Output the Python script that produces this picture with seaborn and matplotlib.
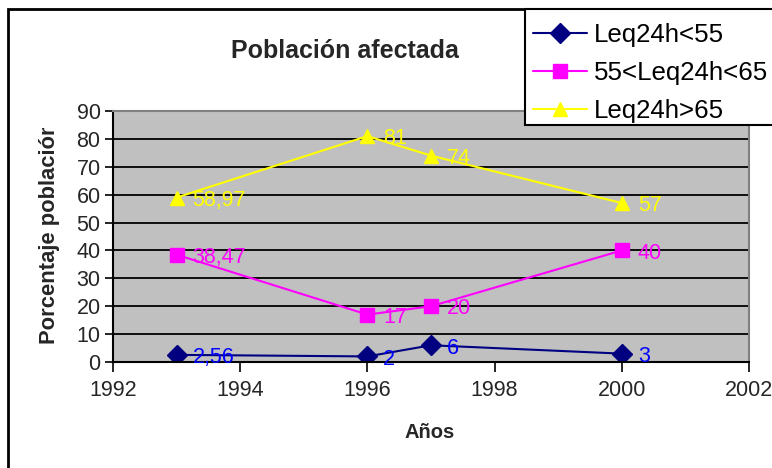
import matplotlib
matplotlib.use("Agg")
import matplotlib.pyplot as plt
import matplotlib.transforms as mtransforms
from matplotlib.patches import Rectangle
from matplotlib.lines import Line2D
import seaborn as sns
import pandas as pd

years = [1993, 1996, 1997, 2000]
series_names = ["Leq24h<55", "55<Leq24h<65", "Leq24h>65"]
low = [2.56, 2, 6, 3]
mid = [38.47, 17, 20, 40]
high = [58.97, 81, 74, 57]
line_colors = ["#000080", "#FF00FF", "#FFFF00"]
label_colors = ["#0000FF", "#FF00FF", "#FFFF00"]
markers = ["D", "s", "^"]
x_ticks = [1992, 1994, 1996, 1998, 2000, 2002]
y_ticks = list(range(0, 100, 10))

rows = []
for name, vals in zip(series_names, [low, mid, high]):
    for yr, v in zip(years, vals):
        rows.append({"Año": yr, "Valor": v, "Serie": name})
df = pd.DataFrame(rows)

sns.set_theme(style="white")
plt.rcParams["font.family"] = ["Liberation Sans", "DejaVu Sans"]

W, H = 772, 468
fig = plt.figure(figsize=(W / 100, H / 100), dpi=100)
ax = fig.add_axes([113 / W, 1 - 362 / H, (749 - 113) / W, (362 - 111) / H])
ax.set_facecolor("#C0C0C0")

sns.lineplot(data=df, x="Año", y="Valor", hue="Serie", style="Serie",
             hue_order=series_names, style_order=series_names,
             palette=dict(zip(series_names, line_colors)),
             markers=dict(zip(series_names, markers)), dashes=False,
             markersize=10, markeredgewidth=1, linewidth=1.5, ax=ax, legend=False)

for line, c in zip(ax.get_lines(), line_colors):
    line.set_markerfacecolor(c)
    line.set_markeredgecolor(c)

def fmt(v):
    return ("%g" % v).replace(".", ",")

for vals, c in zip([low, mid, high], label_colors):
    for yr, v in zip(years, vals):
        ax.annotate(fmt(v), (yr, v), xytext=(11.5, -2), textcoords="offset points",
                    ha="left", va="center", color=c, fontsize=15.5)

ax.set_xlim(1992, 2002)
ax.set_ylim(0, 90)
ax.set_xticks(x_ticks)
ax.set_yticks(y_ticks)
ax.set_xticklabels([str(t) for t in x_ticks], fontsize=15.5)
ax.set_yticklabels([str(t) for t in y_ticks], fontsize=15.5)
ax.tick_params(axis="x", direction="out", length=7, width=1.2, color="black", pad=6, bottom=True)
ax.tick_params(axis="y", direction="out", length=6, width=1.2, color="black", pad=3, left=True)
for yv in y_ticks[1:-1]:
    ax.axhline(yv, color="black", linewidth=1.3, zorder=1)
ax.set_xlabel("")
ax.set_ylabel("")
for s in ["left", "bottom"]:
    ax.spines[s].set_color("black")
    ax.spines[s].set_linewidth(1.5)
for s in ["top", "right"]:
    ax.spines[s].set_color("#808080")
    ax.spines[s].set_linewidth(1.5)

fig.text(345 / W, 1 - 51 / H, "Población afectada", ha="center", va="center",
         fontsize=18, fontweight="bold")
fig.text(430 / W, 1 - 433 / H, "Años", ha="center", va="center",
         fontsize=14.5, fontweight="bold")
yl = fig.text(50 / W, 1 - 233 / H, "Porcentaje población", ha="center", va="center",
              rotation=90, fontsize=15.8, fontweight="bold")
yl.set_clip_box(mtransforms.TransformedBbox(
    mtransforms.Bbox.from_extents(0, 0, 1, (H - 128) / H), fig.transFigure))
yl.set_clip_on(True)

# outer chart border
fig.patches.append(Rectangle((8 / W, -0.1), 1.2, 1 - 9 / H + 0.1, transform=fig.transFigure,
                             fill=False, edgecolor="black", linewidth=2, zorder=0))
# legend box (extends past the right edge)
fig.patches.append(Rectangle((525 / W, 1 - 125 / H), 1.0, (125 - 9) / H, transform=fig.transFigure,
                             facecolor="white", edgecolor="black", linewidth=1.5, zorder=5))

handles = [Line2D([0], [0], color=c, marker=m, markersize=10, markerfacecolor=c,
                  markeredgecolor=c, linewidth=1.5) for c, m in zip(line_colors, markers)]
leg = fig.legend(handles, series_names, loc="upper left",
                 bbox_to_anchor=(525 / W, 1 - 15 / H), fontsize=18.6, frameon=False,
                 borderpad=0.3, labelspacing=0.54, handlelength=2.1, handletextpad=0.25,
                 borderaxespad=0)
leg.set_zorder(6)
for t in leg.get_texts():
    t.set_color("black")

fig.savefig("out.png", dpi=100, facecolor="white")
